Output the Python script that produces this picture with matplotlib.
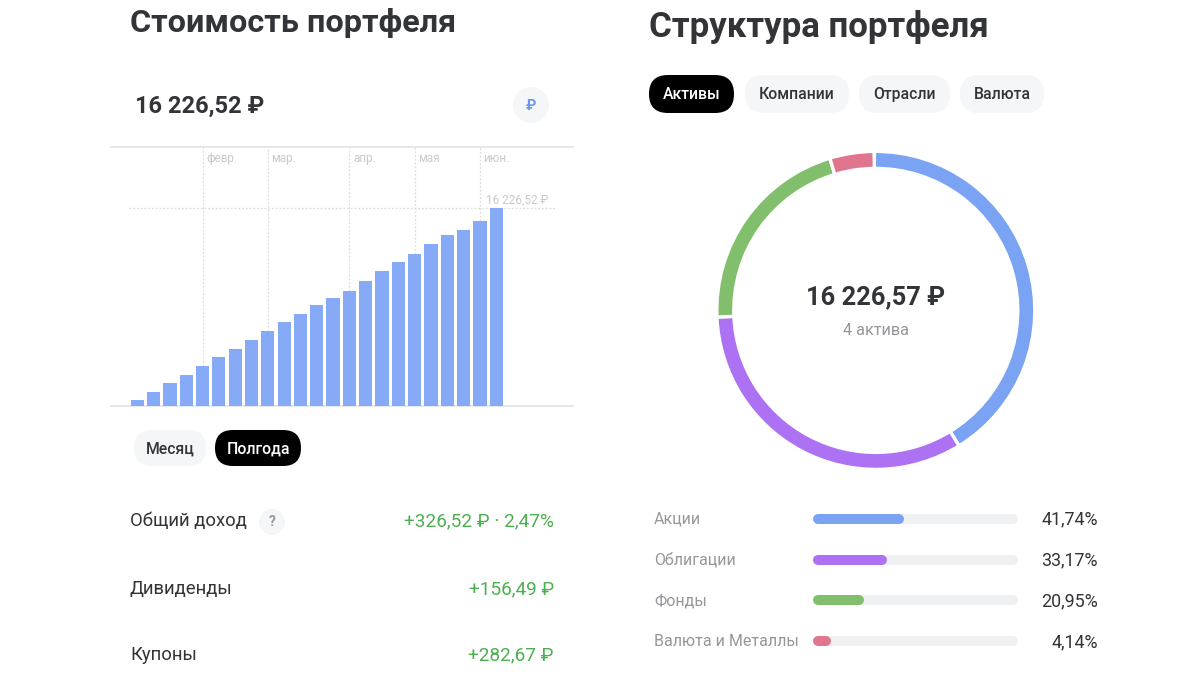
import matplotlib
matplotlib.use("Agg")
import matplotlib.pyplot as plt
from matplotlib.patches import FancyBboxPatch, Circle

plt.rcParams['font.family'] = ['Roboto', 'DejaVu Sans']

W, H = 1200, 675

# data
portfolio_vals = [492, 1177, 1861, 2545, 3256, 3995, 4706, 5445, 6157, 6868, 7552, 8318,
                  8893, 9467, 10288, 11054, 11848, 12477, 13271, 14037, 14447, 15186, 16226.52]
month_labels = ["февр.", "мар.", "апр.", "мая", "июн."]
month_idx = [4, 8, 13, 17, 21]

asset_names = ["Акции", "Облигации", "Фонды", "Валюта и Металлы"]
asset_shares = [41.74, 33.17, 20.95, 4.14]
donut_shares = [41.4, 33.1, 21.0, 4.5]  # as drawn on the ring, slightly off the printed ones
asset_labels = ["41,74%", "33,17%", "20,95%", "4,14%"]
asset_colors = ["#7ba3f4", "#ad72f3", "#82bf6c", "#e2758e"]

income_names = ["Общий доход", "Дивиденды", "Купоны"]
income_vals = ["+326,52 ₽ · 2,47%", "+156,49 ₽", "+282,67 ₽"]

BAR_C = "#86aaf6"
DARK = "#333437"
GREY = "#96979b"
LIGHT = "#c9cacd"
GRID = "#dcdde0"
GREEN = "#4caf50"
PILL = "#f5f6f7"


def px_axes(fig, x0, y0, x1, y1):
    # rectangle in image pixels, y from the top
    return fig.add_axes([x0 / W, 1 - y1 / H, (x1 - x0) / W, (y1 - y0) / H])


def pill(ax, x0, x1, y0, y1, txt, active=False):
    r = (y1 - y0) / 2
    ax.add_patch(FancyBboxPatch((x0 + r, y0 + r), x1 - x0 - 2 * r, 0,
                                boxstyle=f"round,pad={r},rounding_size={r}",
                                fc="black" if active else PILL, ec="none"))
    ax.text((x0 + x1) / 2, (y0 + y1) / 2 + 0.8, txt, ha="center", va="center", fontsize=11.3,
            color="white" if active else DARK, fontweight="medium")


fig = plt.figure(figsize=(W / 100, H / 100), dpi=100, facecolor="white")

# page overlay in pixel coordinates
ui = px_axes(fig, 0, 0, W, H)
ui.set_xlim(0, W)
ui.set_ylim(H, 0)
ui.axis("off")

ui.text(130, 22.5, "Стоимость портфеля", fontsize=23.3, fontweight="bold", color=DARK, va="center")
ui.text(649, 27.5, "Структура портфеля", fontsize=25.1, fontweight="bold", color=DARK, va="center")
ui.text(135, 106, "16 226,52 ₽", fontsize=17, fontweight="bold", color=DARK, va="center")

ui.add_patch(Circle((531, 105), 18, fc=PILL, ec="none"))
ui.text(531, 105.5, "₽", fontsize=10.5, fontweight="bold", color="#6f96e8", ha="center", va="center")

pill(ui, 134, 206, 430, 466, "Месяц")
pill(ui, 215, 301, 430, 466, "Полгода", active=True)
pill(ui, 649, 734, 75, 113, "Активы", active=True)
pill(ui, 745, 849, 75, 113, "Компании")
pill(ui, 859, 950, 75, 113, "Отрасли")
pill(ui, 960, 1044, 75, 113, "Валюта")

# income rows
for name, val, y in zip(income_names, income_vals, [521, 589, 655]):
    ui.text(130, y, name, fontsize=13.3, color=DARK, va="center")
    ui.text(554, y, val, fontsize=13.7, color=GREEN, va="center", ha="right")
ui.add_patch(Circle((272, 522), 13, fc=PILL, ec="none"))
ui.text(272, 522.5, "?", fontsize=10, fontweight="bold", color=GREY, ha="center", va="center")

# bar chart
ax = px_axes(fig, 111, 147, 573, 406)
ax.set_xlim(-1.61, 26.70)
ymax = 16226.52 * 259 / 197.7
ax.set_ylim(0, ymax)
ax.patch.set_alpha(0)
ax.set_xticks([])
ax.set_yticks([])
for s in ("left", "right"):
    ax.spines[s].set_visible(False)
for s in ("top", "bottom"):
    ax.spines[s].set_color("#e6e7e9")
    ax.spines[s].set_linewidth(1.4)

ax.bar(range(len(portfolio_vals)), portfolio_vals, width=0.81, color=BAR_C, zorder=3)
for i, lab in zip(month_idx, month_labels):
    ax.vlines(i, portfolio_vals[i], ymax, color=GRID, lw=0.9, linestyles=(0, (1.5, 1.5)), zorder=1)
    ax.annotate(lab, (i, ymax), xytext=(2.5, -8), textcoords="offset points",
                fontsize=8.5, color=LIGHT, va="center")
ax.hlines(portfolio_vals[-1], -0.51, 25.6, color=GRID, lw=0.9, linestyles=(0, (1.5, 1.5)), zorder=1)
ax.annotate("16 226,52 ₽", (22, portfolio_vals[-1]), xytext=(-7.5, 6), textcoords="offset points",
            fontsize=8.5, color=LIGHT, va="center")

# donut
dax = px_axes(fig, 875.8 - 161, 310.4 - 161, 875.8 + 161, 310.4 + 161)
dax.pie(donut_shares, colors=asset_colors, startangle=90.6, counterclock=False, radius=1.0,
        wedgeprops=dict(width=0.107, edgecolor="white", linewidth=2.4))
dax.set_xlim(-1.0125, 1.0125)
dax.set_ylim(-1.0125, 1.0125)
dax.text(0, 0.085, "16 226,57 ₽", fontsize=18.3, fontweight="bold", color=DARK, ha="center", va="center")
dax.text(0, -0.125, "4 актива", fontsize=11.7, color=GREY, ha="center", va="center")

# share bars with round caps
sax = px_axes(fig, 817.7, 499, 1013, 661)
sax.set_xlim(0, 100)
sax.set_ylim(3.5, -0.5)
sax.axis("off")
for i, (name, share, lab, col) in enumerate(zip(asset_names, asset_shares, asset_labels, asset_colors)):
    sax.plot([0, 100], [i, i], color="#f0f1f3", lw=7.2, solid_capstyle="round", clip_on=False, zorder=1)
    sax.plot([0, share], [i, i], color=col, lw=7.2, solid_capstyle="round", clip_on=False, zorder=2)
    ui.text(654, 519.5 + i * 40.7, name, fontsize=11.5, color=GREY, va="center")
    ui.text(1098, 519.8 + i * 40.7, lab, fontsize=12.9, color=DARK, va="center", ha="right")

fig.savefig("out.png", dpi=100)
